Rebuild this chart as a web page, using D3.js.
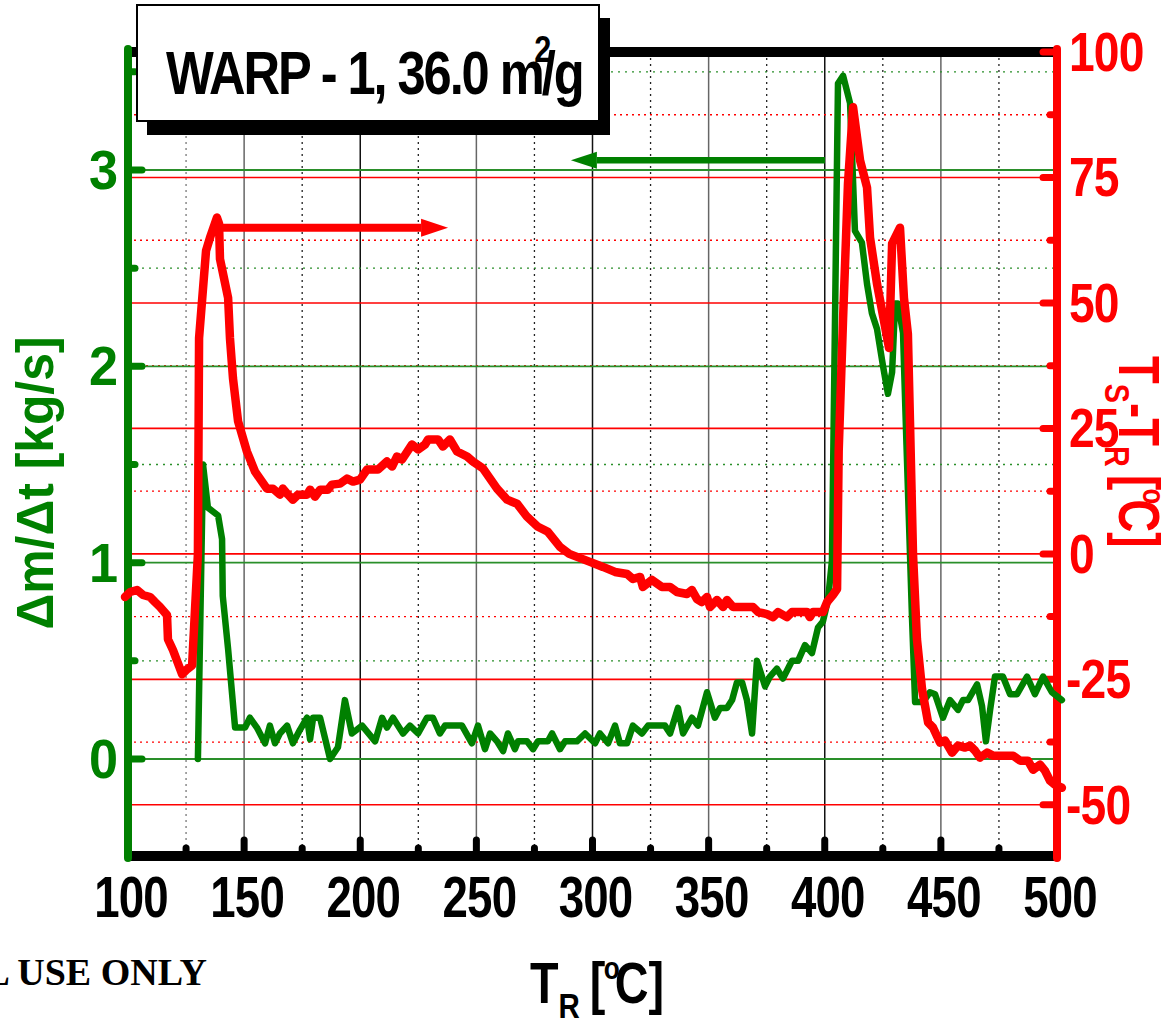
<!DOCTYPE html>
<html><head><meta charset="utf-8">
<script src="https://cdn.jsdelivr.net/npm/d3@7"></script>
<style>body{margin:0;background:#fff;overflow:hidden} svg{display:block}</style>
</head><body><svg id="c" width="1161" height="1025"></svg>
<script>
// ---------- data ----------
const greenT = [130.1,132.3,134.4,138.8,140.5,140.8,143.1,146.1,150.4,152.5,155.5,159.0,161.1,163.3,165.4,168.5,171.0,174.1,177.1,178.4,179.7,182.7,187.0,190.4,193.4,196.4,200.8,206.4,209.4,211.5,214.1,218.4,221.4,224.9,228.7,231.3,234.3,236.5,243.8,248.1,250.7,253.7,255.9,258.9,261.5,263.6,266.6,267.9,271.8,274.4,276.5,280.8,282.6,286.0,288.2,293.3,296.8,301.1,303.2,306.7,309.7,311.8,314.9,317.4,321.3,323.9,331.2,333.4,336.8,339.0,342.8,345.4,349.3,352.7,354.9,357.9,360.1,362.2,364.4,366.5,368.7,370.8,374.3,376.4,379.4,382.0,385.9,388.5,391.5,394.5,397.1,399.2,401.4,403.1,405.7,407.9,410.9,413.0,416.0,418.2,420.3,422.5,425.1,427.2,429.0,430.3,431.5,433.7,435.2,437.6,438.9,442.3,445.3,447.5,450.9,453.9,457.4,459.5,461.7,465.6,467.7,469.4,471.2,473.3,476.7,479.8,482.8,487.1,490.5,494.0,497.8,502.1];
const greenRate = [0,1.50,1.28,1.24,1.12,0.83,0.56,0.16,0.16,0.21,0.16,0.08,0.17,0.08,0.13,0.17,0.08,0.15,0.21,0.10,0.21,0.21,0.00,0.06,0.30,0.13,0.17,0.09,0.21,0.16,0.21,0.13,0.17,0.13,0.21,0.21,0.13,0.17,0.17,0.08,0.17,0.05,0.13,0.09,0.04,0.13,0.05,0.09,0.09,0.05,0.09,0.09,0.13,0.05,0.09,0.09,0.13,0.08,0.13,0.08,0.17,0.08,0.08,0.17,0.13,0.17,0.17,0.13,0.26,0.13,0.21,0.17,0.34,0.21,0.26,0.26,0.30,0.39,0.39,0.30,0.13,0.50,0.37,0.42,0.46,0.41,0.50,0.50,0.58,0.54,0.67,0.70,0.81,1.01,3.44,3.48,3.34,2.69,2.63,2.42,2.27,2.19,2.00,1.86,1.97,2.32,2.32,2.17,1.60,0.71,0.29,0.29,0.34,0.33,0.21,0.30,0.25,0.30,0.30,0.38,0.27,0.09,0.25,0.42,0.42,0.33,0.33,0.42,0.33,0.42,0.34,0.30];

const redT = [98.7,100.9,103.9,106.5,109.5,111.6,113.8,116.8,117.2,119.4,123.3,125.4,127.6,130.1,130.6,133.6,135.3,138.3,139.2,139.6,143.1,143.9,145.2,147.4,151.2,154.7,159.8,162.4,165.4,166.7,168.9,171.0,173.2,177.1,178.4,180.5,182.7,186.1,187.8,191.3,194.3,196.9,199.9,202.9,207.6,211.5,213.7,215.8,218.0,222.3,224.9,227.9,229.2,233.5,235.6,238.6,241.7,246.0,248.5,252.9,258.9,263.2,267.5,271.8,276.5,280.8,286.0,290.0,298.9,304.5,309.7,314.9,317.4,320.5,321.7,325.6,329.9,333.4,336.4,340.7,342.8,345.0,347.1,349.3,350.6,353.6,356.2,357.9,360.5,369.1,371.3,375.1,377.7,379.9,383.7,385.9,392.4,393.6,394.9,399.2,401.0,403.5,405.3,406.0,407.9,410.0,412.2,415.2,418.2,419.5,422.5,424.7,427.7,429.0,432.4,434.1,435.8,436.7,438.0,439.7,441.9,444.5,446.6,449.6,451.8,454.8,457.4,460.4,462.5,464.7,466.8,469.9,472.4,481.1,484.1,487.5,489.7,492.7,494.8,497.0,499.1,502.1];
const redDiff = [-8.6,-7.6,-7.2,-8.2,-8.6,-9.6,-10.6,-12.2,-17,-19.2,-24,-23,-22.2,0,43,60.4,63,67,65.8,58.8,51,43,35,26.4,20.4,16.4,13,13,11.8,13,11.8,10.8,11.8,11.8,12.8,11.4,12.8,12.8,13.8,14,15,14.4,14.8,16.8,16.8,18.4,17.4,19.4,18.8,21.8,20.8,21.8,22.8,22.8,21.4,22.8,20.4,19.4,18.4,17,13,10.8,10,7.4,5.4,4.4,1.4,0,-1.6,-2.6,-3.6,-4,-5,-4.6,-6.6,-5.2,-6.6,-6.6,-7.6,-8,-7.2,-9,-9.6,-8.6,-10.6,-9.2,-10.6,-9.2,-10.6,-10.6,-11.6,-12,-12.6,-11.6,-12.6,-11.6,-11.6,-12.6,-11.6,-11.6,-9.6,-8.2,-7,20.4,47,73.8,89,78.4,73,63,53.8,48.4,41,61.8,65,51,43.8,26.4,0,-17,-27,-33.6,-34.6,-37.6,-37.2,-39.6,-38.2,-38.6,-38.2,-39.2,-40.6,-39.6,-40.2,-40.2,-41.2,-41.2,-43,-42,-43.2,-45.2,-46,-46.6];

const xTicks = [100,150,200,250,300,350,400,450,500];
const xMinorTicks = [125,175,225,275,325,375,425,475];
const leftTicks = [0,1,2,3];
const leftMinorTicks = [0.5,1.5,2.5,3.5];
const rightTicks = [-50,-25,0,25,50,75,100];
const rightMinorTicks = [-37.5,-12.5,12.5,37.5,62.5,87.5];

// arrows: [start T, end T (tip), level]
const redArrow = [139.6, 237.8, 65];
const greenArrow = [400.1, 290.7, 3.05];

const titleText = ["WARP - 1, 36.0 m", "2", "/g"];

// ---------- scales ----------
const x = d3.scaleLinear().domain([100,500]).range([128,1057]);
const yL = d3.scaleLinear().domain([-0.489,3.601]).range([855,52]);
const yR = d3.scaleLinear().domain([-60,100]).range([855,52]);

const svg = d3.select("#c");
const GREEN = "#008000", RED = "#ff0000";
const FONT = "'Liberation Sans', Arial, Helvetica, sans-serif";

// ---------- grid ----------
const grid = svg.append("g");
grid.selectAll(".vs").data(xTicks.slice(1,-1)).enter().append("line")
  .attr("x1",d=>x(d)).attr("x2",d=>x(d)).attr("y1",52).attr("y2",856)
  .attr("stroke",(d,i)=>i%2? "#111":"#666").attr("stroke-width",1.5);
grid.selectAll(".vd").data(xMinorTicks).enter().append("line")
  .attr("x1",d=>x(d)).attr("x2",d=>x(d)).attr("y1",52).attr("y2",856)
  .attr("stroke",(d,i)=>i==0?"#777":"#222").attr("stroke-width",1.3).attr("stroke-dasharray","2,4");
grid.selectAll(".rs").data(rightTicks.filter(d=>d<100)).enter().append("line")
  .attr("x1",128).attr("x2",1057).attr("y1",d=>yR(d)).attr("y2",d=>yR(d))
  .attr("stroke",RED).attr("stroke-width",1.6);
grid.selectAll(".rd").data(rightMinorTicks).enter().append("line")
  .attr("x1",128).attr("x2",1057).attr("y1",d=>yR(d)).attr("y2",d=>yR(d))
  .attr("stroke",RED).attr("stroke-width",1.4).attr("stroke-dasharray","2,4");
grid.selectAll(".gs").data(leftTicks).enter().append("line")
  .attr("x1",128).attr("x2",1057).attr("y1",d=>yL(d)).attr("y2",d=>yL(d))
  .attr("stroke","#2a8f2a").attr("stroke-width",1.8);
grid.selectAll(".gd").data(leftMinorTicks).enter().append("line")
  .attr("x1",128).attr("x2",1057).attr("y1",d=>yL(d)).attr("y2",d=>yL(d))
  .attr("stroke","#2a8f2a").attr("stroke-width",1.4).attr("stroke-dasharray","2,5");

// ---------- axes frame ----------
const ax = svg.append("g").attr("stroke-linecap","round");
ax.append("line").attr("x1",x(100)).attr("x2",x(500)).attr("y1",52).attr("y2",52)
  .attr("stroke","#000").attr("stroke-width",10).attr("stroke-linecap","butt");
ax.append("line").attr("x1",x(100)).attr("x2",x(500)).attr("y1",856).attr("y2",856)
  .attr("stroke","#000").attr("stroke-width",10).attr("stroke-linecap","butt");
ax.selectAll(".bt").data(xTicks.slice(1,-1)).enter().append("line")
  .attr("x1",d=>x(d)).attr("x2",d=>x(d)).attr("y1",856).attr("y2",840)
  .attr("stroke","#000").attr("stroke-width",7);
ax.selectAll(".btm").data(xMinorTicks).enter().append("line")
  .attr("x1",d=>x(d)).attr("x2",d=>x(d)).attr("y1",856).attr("y2",848)
  .attr("stroke","#000").attr("stroke-width",7);
ax.append("line").attr("x1",128).attr("x2",128).attr("y1",49).attr("y2",858)
  .attr("stroke",GREEN).attr("stroke-width",8);
ax.selectAll(".lt").data(leftTicks).enter().append("line")
  .attr("x1",128).attr("x2",142).attr("y1",d=>yL(d)).attr("y2",d=>yL(d))
  .attr("stroke",GREEN).attr("stroke-width",7);
ax.selectAll(".ltm").data(leftMinorTicks).enter().append("line")
  .attr("x1",128).attr("x2",135).attr("y1",d=>yL(d)).attr("y2",d=>yL(d))
  .attr("stroke",GREEN).attr("stroke-width",7);
ax.append("line").attr("x1",1057).attr("x2",1057).attr("y1",49).attr("y2",858)
  .attr("stroke",RED).attr("stroke-width",8);
ax.selectAll(".rt").data(rightTicks).enter().append("line")
  .attr("x1",1057).attr("x2",1043).attr("y1",d=>yR(d)).attr("y2",d=>yR(d))
  .attr("stroke",RED).attr("stroke-width",7);
ax.selectAll(".rtm").data(rightMinorTicks).enter().append("line")
  .attr("x1",1057).attr("x2",1050).attr("y1",d=>yR(d)).attr("y2",d=>yR(d))
  .attr("stroke",RED).attr("stroke-width",7);

// ---------- tick labels ----------
const lab = svg.append("g").attr("font-family",FONT).attr("font-weight","bold");
lab.selectAll(".bl").data(xTicks).enter().append("text")
  .attr("transform",d=>`translate(${x(d)+3},917) scale(0.8,1)`)
  .attr("text-anchor","middle").attr("font-size",57).attr("letter-spacing",-1).attr("fill","#000").text(d=>d);
lab.selectAll(".ll").data(leftTicks).enter().append("text")
  .attr("transform",d=>`translate(118,${yL(d)+19}) scale(0.95,1)`)
  .attr("text-anchor","end").attr("font-size",55).attr("fill",GREEN).text(d=>d);
lab.selectAll(".rl").data(rightTicks).enter().append("text")
  .attr("transform",d=>`translate(${d<0?1066:1069},${yR(d)+19}) scale(0.84,1)`)
  .attr("text-anchor","start").attr("font-size",55).attr("letter-spacing",-1).attr("fill",RED).text(d=>d);

// ---------- axis titles ----------
const xt = svg.append("text").attr("font-family",FONT).attr("font-weight","bold")
  .attr("transform","translate(530,1003) scale(0.82,1)").attr("fill","#000").attr("font-size",57);
xt.append("tspan").text("T");
xt.append("tspan").attr("font-size",36).attr("dy",15).text("R");
xt.append("tspan").attr("font-size",57).attr("dy",-15).attr("dx",12).text("[");
xt.append("tspan").attr("font-size",32).attr("dy",-24).attr("dx",-2).text("o");
xt.append("tspan").attr("font-size",57).attr("dy",24).attr("dx",-6).text("C]");

svg.append("text").attr("font-family",FONT).attr("font-weight","bold")
  .attr("transform","translate(53,483) rotate(-90)").attr("text-anchor","middle")
  .attr("font-size",51).attr("fill",GREEN).attr("textLength",293).attr("lengthAdjust","spacingAndGlyphs")
  .text("Δm/Δt [kg/s]");

const rt = svg.append("text").attr("font-family",FONT).attr("font-weight","bold")
  .attr("transform","translate(1119,356) rotate(90) scale(0.8,1)").attr("fill",RED).attr("font-size",57);
rt.append("tspan").text("T");
rt.append("tspan").attr("font-size",36).attr("dy",14).text("S");
rt.append("tspan").attr("font-size",57).attr("dy",-14).text("-T");
rt.append("tspan").attr("font-size",36).attr("dy",14).text("R");
rt.append("tspan").attr("font-size",57).attr("dy",-14).attr("dx",10).text("[");
rt.append("tspan").attr("font-size",32).attr("dy",-24).attr("dx",-2).text("o");
rt.append("tspan").attr("font-size",57).attr("dy",24).attr("dx",-6).text("C]");

svg.append("text").attr("font-family","'Liberation Serif','Times New Roman',serif").attr("font-weight","bold")
  .attr("x",207).attr("y",985).attr("text-anchor","end").attr("font-size",38).attr("fill","#000")
  .text("L USE ONLY");

// ---------- data lines ----------
const gData = greenT.map((t,i)=>[t,greenRate[i]]);
const rData = redT.map((t,i)=>[t,redDiff[i]]);
svg.append("path").datum(gData)
  .attr("d",d3.line().x(d=>x(d[0])).y(d=>yL(d[1])))
  .attr("fill","none").attr("stroke",GREEN).attr("stroke-width",6.5)
  .attr("stroke-linejoin","round").attr("stroke-linecap","round");
svg.append("path").datum(rData)
  .attr("d",d3.line().x(d=>x(d[0])).y(d=>yR(d[1])))
  .attr("fill","none").attr("stroke",RED).attr("stroke-width",8.5)
  .attr("stroke-linejoin","round").attr("stroke-linecap","round");

// ---------- arrows ----------
function arrow(x0,x1,y,col,w,headLen,headHalf){
  const dir = Math.sign(x1-x0);
  const base = x1 - dir*headLen;
  svg.append("line").attr("x1",x0).attr("x2",base).attr("y1",y).attr("y2",y)
    .attr("stroke",col).attr("stroke-width",w);
  svg.append("path").attr("d",`M${x1},${y}L${base},${y-headHalf}L${base},${y+headHalf}Z`).attr("fill",col);
}
arrow(x(redArrow[0]),x(redArrow[1]),yR(redArrow[2]),RED,8,27,9);
arrow(x(greenArrow[0]),x(greenArrow[1]),yL(greenArrow[2]),GREEN,6.5,26,8.5);

// ---------- title box ----------
svg.append("rect").attr("x",147).attr("y",18).attr("width",463).attr("height",117).attr("fill","#000");
svg.append("rect").attr("x",137).attr("y",5).attr("width",462).attr("height",116)
  .attr("fill","#fff").attr("stroke","#000").attr("stroke-width",2);
const tt = svg.append("text").attr("font-family",FONT).attr("font-weight","bold")
  .attr("transform","translate(166,94) scale(0.83,1)").attr("font-size",61).attr("letter-spacing",-2.5).attr("fill","#000");
tt.append("tspan").text(titleText[0]);
tt.append("tspan").attr("font-size",37).attr("dx",-10).attr("dy",-32).text(titleText[1]);
tt.append("tspan").attr("font-size",61).attr("dx",-9).attr("dy",32).text(titleText[2]);
</script></body></html>
